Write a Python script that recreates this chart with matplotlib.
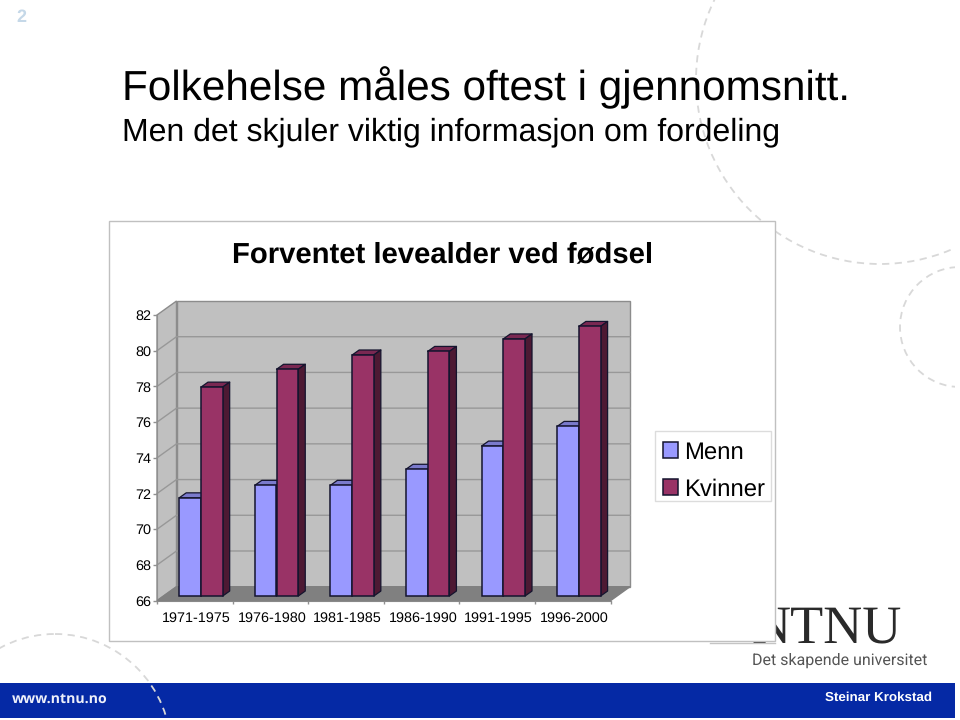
import matplotlib
matplotlib.use("Agg")
import matplotlib.pyplot as plt
from matplotlib.patches import Circle, Polygon, Rectangle

periods = ["1971-1975", "1976-1980", "1981-1985", "1986-1990", "1991-1995", "1996-2000"]
menn = [71.5, 72.2, 72.2, 73.1, 74.4, 75.5]
kvinner = [77.7, 78.7, 79.5, 79.7, 80.4, 81.1]
y_ticks = [66, 68, 70, 72, 74, 76, 78, 80, 82]
title_main = "Folkehelse måles oftest i gjennomsnitt."
title_sub = "Men det skjuler viktig informasjon om fordeling"
chart_title = "Forventet levealder ved fødsel"

W, H = 960, 720
plt.rcParams['font.family'] = ['Liberation Sans', 'DejaVu Sans']
plt.rcParams['text.hinting'] = 'none'
fig = plt.figure(figsize=(W / 100, H / 100), dpi=100, facecolor='white')

# page decoration in pixel coordinates
bg = fig.add_axes([0, 0, 1, 1])
bg.set_xlim(0, W)
bg.set_ylim(H, 0)
bg.axis('off')
clip = Rectangle((0, 0), 955, 718, transform=bg.transData)
for c, r in [((880, 80), 184), ((960, 327), 60), ((55, 750), 116)]:
    p = Circle(c, r, fill=False, ec='#d8d8d8', lw=1.3, ls=(0, (4, 3)), zorder=3)
    bg.add_patch(p)
    p.set_clip_path(clip)
bg.add_patch(Rectangle((0, 683), 955, 34.5, fc='#0529a5', ec='none', zorder=2))
bg.text(21, 17, "2", fontsize=13, fontweight='bold', color='#c5d8e8', ha='center', va='center')
bg.text(122, 100, title_main, fontsize=30.4, color='black', va='baseline', zorder=4)
bg.text(122, 140, title_sub, fontsize=23, color='black', va='baseline', zorder=4)
bg.text(902, 642, "NTNU", fontsize=39, family='Liberation Serif', color='#2a2a2a',
        ha='right', va='baseline', zorder=1)
bg.text(927, 665, "Det skapende universitet", fontsize=11.5, family='Roboto', color='#555555',
        ha='right', va='baseline', zorder=1)
bg.plot([710, 775], [642.5, 642.5], color='#c4c4c4', lw=1, zorder=1)
bg.text(12, 699, "www.ntnu.no", fontsize=10.2, fontweight='bold', family='Open Sans',
        color='#eef0fa', va='center', zorder=5)
bg.text(932, 697.5, "Steinar Krokstad", fontsize=9.6, fontweight='bold', color='white',
        ha='right', va='center', zorder=5)
bg.add_patch(Rectangle((108.5, 220.5), 666.5, 420.5, fc='white', ec='#c0c0c0', lw=1, zorder=6))
bg.text(442.5, 255, chart_title, fontsize=21.1, fontweight='bold', color='black',
        ha='center', va='center', zorder=7)
bg.add_patch(Rectangle((654.5, 430.5), 116.5, 70.5, fc='white', ec='#dcdcdc', lw=1, zorder=7))

# chart: axes = front plane of the pseudo-3D plot
L, R, T, B = 157, 610.5, 315, 600.7
ax = fig.add_axes([L / W, 1 - B / H, (R - L) / W, (B - T) / H])
ax.set_xlim(0, 6)
ax.set_ylim(66, 82)
ax.patch.set_visible(False)
for s in ('top', 'right'):
    ax.spines[s].set_visible(False)
for s in ('left', 'bottom'):
    ax.spines[s].set_color('#909090')

DX = 19.5 / ((R - L) / 6)     # wall depth in category units
DY = 14 / ((B - T) / 16)      # wall depth in value units
ddx, ddy = 0.093, 0.28        # bar depth
bar_w = 0.287
base = 66 + 0.26
wall = dict(fc='#c0c0c0', ec='#8c8c8c', lw=1, clip_on=False, zorder=1)
ax.add_patch(Polygon([(DX, 66 + DY), (6 + DX, 66 + DY), (6 + DX, 82 + DY), (DX, 82 + DY)], **wall))
ax.add_patch(Polygon([(0, 66), (DX, 66 + DY), (DX, 82 + DY), (0, 82)], **wall))
for t in y_ticks[1:-1]:
    ax.plot([0, DX, 6 + DX], [t, t + DY, t + DY], color='#989898', lw=1, clip_on=False, zorder=2)
ax.add_patch(Polygon([(0, 66), (6, 66), (6 + DX, 66 + DY), (DX, 66 + DY)],
                     fc='#808080', ec='#808080', lw=1, clip_on=False, zorder=3))


def draw_series(values, offset, face, top, side, z, label):
    xs = [i + offset for i in range(len(values))]
    heights = [v - 66 for v in values]
    bars = ax.bar(xs, heights, bottom=base, width=bar_w, color=face, edgecolor='#14142e',
                  lw=1.1, zorder=z + 1, label=label, clip_on=False)
    edge = dict(ec='#14142e', lw=0.9, clip_on=False, zorder=z, joinstyle='round')
    for x, v in zip(xs, values):
        x0, x1, yt = x - bar_w / 2, x + bar_w / 2, v + 0.26
        ax.add_patch(Polygon([(x0, yt), (x1, yt), (x1 + ddx, yt + ddy), (x0 + ddx, yt + ddy)], fc=top, **edge))
        ax.add_patch(Polygon([(x1, base), (x1 + ddx, base + ddy), (x1 + ddx, yt + ddy), (x1, yt)], fc=side, **edge))
    return bars


draw_series(menn, 0.437, '#9999ff', '#7a7acc', '#4d4d80', 5, 'Menn')
draw_series(kvinner, 0.725, '#993366', '#7a2852', '#4d1933', 8, 'Kvinner')

ax.set_yticks(y_ticks)
ax.tick_params(axis='y', length=2.9, width=1, color='#909090', labelsize=10.4, pad=1, labelcolor='black')
ax.set_xticks(range(7))
ax.set_xticklabels([])
ax.set_xticks([i + 0.52 for i in range(6)], periods, minor=True)
ax.tick_params(axis='x', which='major', length=2.5, width=1, color='#909090')
ax.tick_params(axis='x', which='minor', length=0, labelsize=10.4, pad=8, labelcolor='black')

ax.legend(loc='upper left', bbox_to_anchor=(663 / W, 1 - 441 / H), bbox_transform=fig.transFigure,
          fontsize=17.2, frameon=False, borderaxespad=0, handlelength=0.63, handleheight=0.63,
          handletextpad=0.25, labelspacing=0.62, borderpad=0)

fig.savefig("out.png", dpi=100)
